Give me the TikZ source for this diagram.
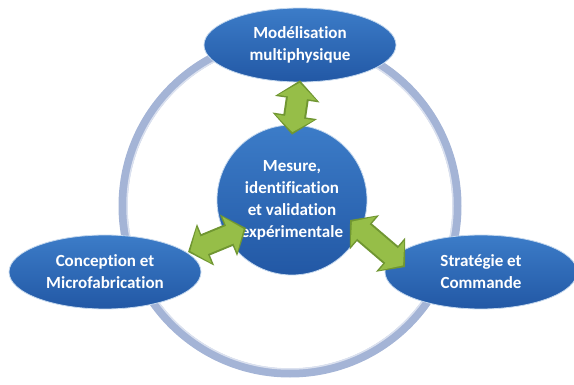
\documentclass[tikz,border=0pt]{standalone}
\usepackage{fontspec}
\setmainfont{Carlito}[Ligatures=NoCommon]
\usepackage{xcolor}
\usepackage{tikz}
\usetikzlibrary{shapes.geometric,arrows.meta}
\definecolor{bluelight}{RGB}{60,124,200}
\definecolor{bluedark}{RGB}{34,88,165}
\definecolor{ringgray}{RGB}{164,180,214}
\definecolor{arrowgreen}{RGB}{150,190,72}
\definecolor{arrowedge}{RGB}{112,150,50}

\begin{document}
\begin{tikzpicture}[x=1pt,y=-1pt,
    topic/.style={ellipse,top color=bluelight,bottom color=bluedark,draw=white!70!bluelight,thick,
        text=white,align=center,inner sep=0pt,minimum width=192pt,minimum height=74pt,
        font=\bfseries\fontsize{17}{22}\selectfont},
    hub/.style={topic,circle,minimum size=150pt,minimum width=150pt},
    linkedge/.style={arrowedge,line width=23pt,
        {Triangle[length=19pt,width=44pt]}-{Triangle[length=19pt,width=44pt]}},
    link/.style={arrowgreen,line width=19pt,shorten <=2.5pt,shorten >=2.5pt,
        {Triangle[length=15pt,width=38pt]}-{Triangle[length=15pt,width=38pt]}}]
    \useasboundingbox (0,0) rectangle (574,385);
    \draw [ringgray,line width=9pt] (290,206) circle (167);
    \draw [white!60!ringgray,line width=1.5pt] (290,206) circle (163);
    \node [topic] (Model) at (300,45) {Modélisation\\multiphysique};
    \node [topic] (Conception) at (105,272) {Conception et\\Microfabrication};
    \node [topic] (Strategie) at (481,272) {Stratégie et\\Commande};
    \node [hub] (Mesure) at (292,200) {Mesure,\\identification\\et validation\\expérimentale};
    \foreach \style in {linkedge,link} {
        \draw [\style] ([yshift=2pt]Model.south) -- ([yshift=-10pt]Mesure.north);
        \draw [\style] ([shift={(83,-20)}]Conception.center) -- ([shift={(-46,28)}]Mesure.center);
        \draw [\style] ([shift={(58,20)}]Mesure.center) -- ([shift={(-76,-5)}]Strategie.center);
    }
\end{tikzpicture}
\end{document}
